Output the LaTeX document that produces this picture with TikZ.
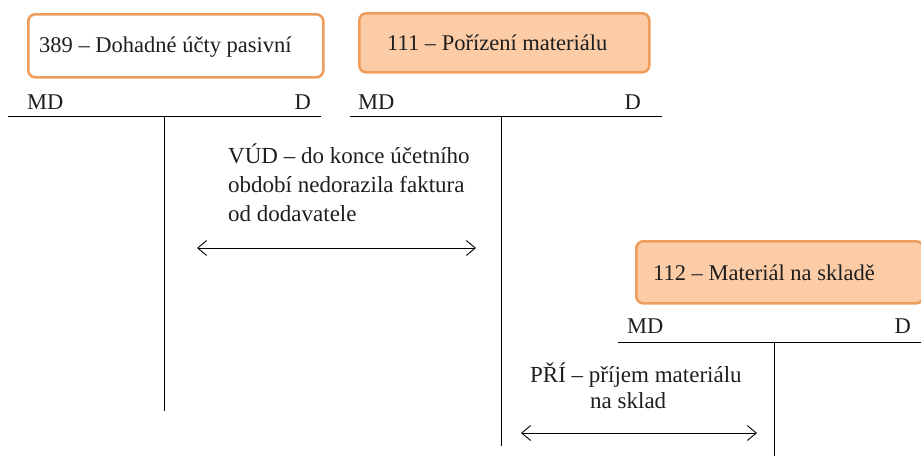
\documentclass[tikz,border=0pt]{standalone}
\usepackage{fontspec}
\setmainfont{Liberation Serif}
\usetikzlibrary{arrows.meta}
\definecolor{accborder}{HTML}{EE9D5C}
\definecolor{accfill}{HTML}{FBCCA6}
\definecolor{inktext}{HTML}{1E1E1E}
\tikzset{
  acctitle/.style={draw=accborder, line width=2.6pt, rounded corners=7pt, anchor=north west,
    inner sep=0pt},
  titletext/.style={anchor=base west, inner sep=0pt, text=inktext, font=\fontsize{22.5}{26}\selectfont},
  sidelabel/.style={font=\fontsize{22.5}{26}\selectfont, text=inktext, inner sep=0pt},
  noteline/.style={font=\fontsize{23}{28}\selectfont, text=inktext, inner sep=0pt, anchor=base west},
  tline/.style={line width=0.9pt},
  twoway/.style={line width=0.9pt, {Straight Barb[length=9pt,width=15pt]}-{Straight Barb[length=9pt,width=15pt]}}
}
\begin{document}
\begin{tikzpicture}[x=1pt,y=-1pt]
\useasboundingbox (0,0) rectangle (921,459);

% account titles
\node[acctitle, fill=white, minimum width=295pt, minimum height=63pt] (t389) at (27,13) {};
\node[titletext] (t389txt) at (39,52) {389 – Dohadné účty pasivní};
\node[acctitle, fill=accfill, minimum width=290pt, minimum height=59pt] (t111) at (358,12) {};
\node[titletext] (t111txt) at (387,50) {111 – Pořízení materiálu};
\node[acctitle, fill=accfill, minimum width=287pt, minimum height=62pt] (t112) at (635,240) {};
\node[titletext] (t112txt) at (653,280) {112 – Materiál na skladě};

% T-account 389
\coordinate (a1l) at (8,116);
\coordinate (a1r) at (321,116);
\coordinate (a1t) at (164,116);
\coordinate (a1b) at (164,411);
\draw[tline] (a1l) -- (a1r);
\draw[tline] (a1t) -- (a1b);
\node[sidelabel, anchor=base west] (a1md) at (27,109) {MD};
\node[sidelabel, anchor=base east] (a1d) at (311,109) {D};

% T-account 111
\coordinate (a2l) at (350,116);
\coordinate (a2r) at (662,116);
\coordinate (a2t) at (501,116);
\coordinate (a2b) at (501,446);
\draw[tline] (a2l) -- (a2r);
\draw[tline] (a2t) -- (a2b);
\node[sidelabel, anchor=base west] (a2md) at (358,109) {MD};
\node[sidelabel, anchor=base east] (a2d) at (641,109) {D};

% T-account 112
\coordinate (a3l) at (618,342);
\coordinate (a3r) at (921,342);
\coordinate (a3t) at (774,342);
\coordinate (a3b) at (774,456);
\draw[tline] (a3l) -- (a3r);
\draw[tline] (a3t) -- (a3b);
\node[sidelabel, anchor=base west] (a3md) at (627,333) {MD};
\node[sidelabel, anchor=base east] (a3d) at (911,333) {D};

% booking 1
\node[noteline] (n1a) at (228,163) {VÚD – do konce účetního};
\node[noteline] (n1b) at (228,192) {období nedorazila faktura};
\node[noteline] (n1c) at (228,221) {od dodavatele};
\coordinate (r1l) at (197,248);
\coordinate (r1r) at (476,248);
\draw[twoway] (r1l) -- (r1r);

% booking 2
\node[noteline] (n2a) at (530,382) {PŘÍ – příjem materiálu};
\node[noteline] (n2b) at (590,408) {na sklad};
\coordinate (r2l) at (521,433);
\coordinate (r2r) at (757,433);
\draw[twoway] (r2l) -- (r2r);
\end{tikzpicture}
\end{document}
